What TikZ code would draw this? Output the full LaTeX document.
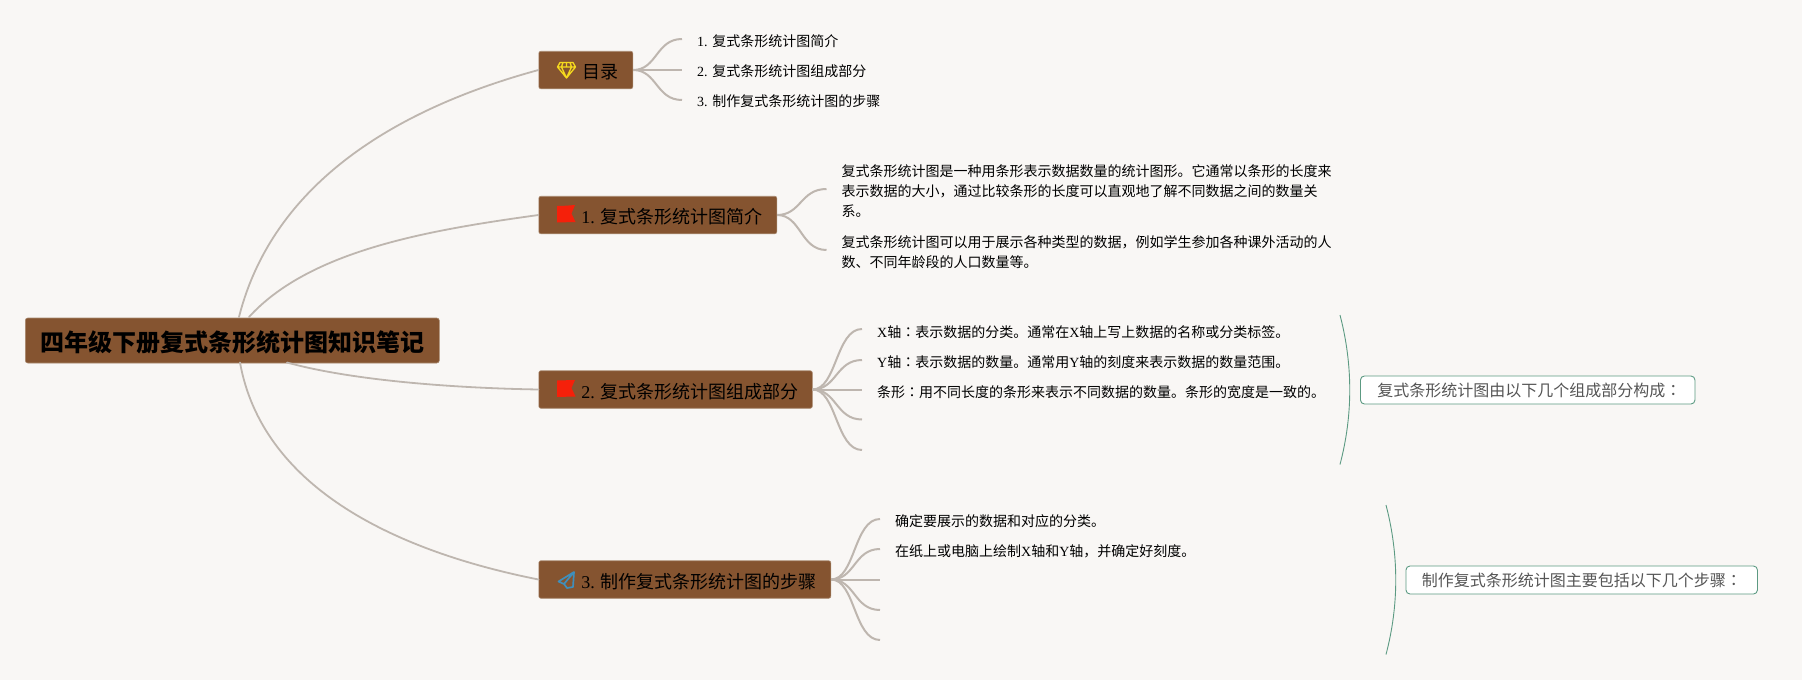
\documentclass[tikz,border=0pt]{standalone}
\usepackage{fontspec}
\usetikzlibrary{calc}
\setmainfont{Noto Sans CJK SC}
\newfontfamily\latf{Liberation Serif}
\newfontfamily\tcf{Noto Sans CJK TC}
\newcommand{\lat}[1]{{\latf #1}}
\newcommand{\cln}{{\tcf ：}}
\definecolor{bgc}{HTML}{F9F7F5}
\definecolor{boxc}{HTML}{855430}
\definecolor{boxl}{HTML}{A98A70}
\definecolor{linec}{HTML}{BEB6AF}
\definecolor{greenc}{HTML}{5C9A82}
\definecolor{greyt}{HTML}{555555}
\definecolor{flagc}{HTML}{F5200A}
\definecolor{gemc}{HTML}{F5D91E}
\definecolor{planec}{HTML}{3F8FBC}
\tikzset{
  x=1pt,y=-1pt,
  rootbox/.style={fill=boxc,draw=boxl,line width=.6pt,rounded corners=2.5pt,inner sep=0pt,minimum height=45pt,minimum width=414pt,text height=21pt,text depth=0pt,anchor=west,text=black,font=\fontsize{24}{28}\selectfont\bfseries},
  topic/.style={fill=boxc,draw=boxl,line width=.6pt,rounded corners=2pt,inner sep=0pt,minimum height=37.5pt,text height=17pt,text depth=0pt,anchor=west,text=black,font=\fontsize{18}{22}\selectfont},
  leaf/.style={inner sep=0pt,anchor=west,align=left,text=black,font=\fontsize{14}{20}\selectfont},
  note/.style={fill=white,draw=greenc,line width=.9pt,rounded corners=4pt,inner sep=0pt,minimum height=28pt,anchor=west,text=greyt,font=\fontsize{16}{20}\selectfont},
  mainlink/.style={draw=linec,line width=1.8pt,line cap=round},
  sublink/.style={draw=linec,line width=2pt},
  bracket/.style={draw=greenc,line width=.9pt},
}
\begin{document}
\begin{tikzpicture}
\useasboundingbox (0,0) rectangle (1802,680);
\fill[bgc] (0,0) rectangle (1802,680);

% nodes
\node[rootbox] (root) at (25,340.5) {\makebox[414pt][c]{四年级下册复式条形统计图知识笔记}};
\node[topic,minimum width=94pt] (t0) at (538.5,70) {\makebox[94pt][l]{\hspace{44pt}目录}};
\node[topic,minimum width=238pt] (t1) at (538.5,215) {\makebox[238pt][l]{\hspace{42.5pt}\lat{1. }复式条形统计图简介}};
\node[topic,minimum width=273.5pt] (t2) at (538.5,389.5) {\makebox[273.5pt][l]{\hspace{42.5pt}\lat{2. }复式条形统计图组成部分}};
\node[topic,minimum width=292pt] (t3) at (538.5,579.5) {\makebox[292pt][l]{\hspace{42.5pt}\lat{3. }制作复式条形统计图的步骤}};

\node[leaf] (a1) at (697,41.5) {\lat{1. }复式条形统计图简介};
\node[leaf] (a2) at (697,71.5) {\lat{2. }复式条形统计图组成部分};
\node[leaf] (a3) at (697,101.5) {\lat{3. }制作复式条形统计图的步骤};

\node[leaf] (b1) at (841.5,191.5) {复式条形统计图是一种用条形表示数据数量的统计图形。它通常以条形的长度来\\表示数据的大小，通过比较条形的长度可以直观地了解不同数据之间的数量关\\系。};
\node[leaf] (b2) at (841.5,252) {复式条形统计图可以用于展示各种类型的数据，例如学生参加各种课外活动的人\\数、不同年龄段的人口数量等。};

\node[leaf] (c1) at (877,332) {\lat{X}轴\cln 表示数据的分类。通常在\lat{X}轴上写上数据的名称或分类标签。};
\node[leaf] (c2) at (877,362) {\lat{Y}轴\cln 表示数据的数量。通常用\lat{Y}轴的刻度来表示数据的数量范围。};
\node[leaf] (c3) at (877,392) {条形\cln 用不同长度的条形来表示不同数据的数量。条形的宽度是一致的。};

\node[leaf] (d1) at (895,521.5) {确定要展示的数据和对应的分类。};
\node[leaf] (d2) at (895,551.5) {在纸上或电脑上绘制\lat{X}轴和\lat{Y}轴，并确定好刻度。};

\node[note,minimum width=334.5pt] (n1) at (1360,390) {\makebox[334.5pt][l]{\hspace{17pt}复式条形统计图由以下几个组成部分构成\cln}};
\node[note,minimum width=351.5pt] (n2) at (1405.5,580) {\makebox[351.5pt][l]{\hspace{16pt}制作复式条形统计图主要包括以下几个步骤\cln}};

% free ends
\coordinate (r0) at (239,317);
\coordinate (r1) at (249,317);
\coordinate (r2) at (287,362.5);
\coordinate (r3) at (240,362.5);
\coordinate (ae1) at (682,39);
\coordinate (ae2) at (682,70);
\coordinate (ae3) at (682,100);
\coordinate (be1) at (826.5,189);
\coordinate (be2) at (826.5,250);
\coordinate (ce1) at (862,329);
\coordinate (ce2) at (862,360);
\coordinate (ce3) at (862,389.5);
\coordinate (ce4) at (862,419.5);
\coordinate (ce5) at (862,450);
\coordinate (de1) at (880,519);
\coordinate (de2) at (880,549);
\coordinate (de3) at (880,579.5);
\coordinate (de4) at (880,610);
\coordinate (de5) at (880,640);
\coordinate (k1t) at (1340,315);
\coordinate (k1b) at (1340,464.5);
\coordinate (k2t) at (1386,505);
\coordinate (k2b) at (1386,654.5);

% main links
\draw[mainlink] (r0) .. controls (275,175) and (410,105) .. (t0.west);
\draw[mainlink] (r1) .. controls (310,250) and (430,230) .. (t1.west);
\draw[mainlink] (r2) .. controls (350,380) and (450,388) .. (t2.west);
\draw[mainlink] (r3) .. controls (262,485) and (390,550) .. (t3.west);

% sub links
\foreach \e in {ae1,ae2,ae3}
  \draw[sublink] (t0.east) .. controls +(24,0) and ($(\e)+(-26,0)$) .. (\e);
\foreach \e in {be1,be2}
  \draw[sublink] (t1.east) .. controls +(24,0) and ($(\e)+(-26,0)$) .. (\e);
\foreach \e in {ce1,ce2,ce3,ce4,ce5}
  \draw[sublink] (t2.east) .. controls +(24,0) and ($(\e)+(-26,0)$) .. (\e);
\foreach \e in {de1,de2,de3,de4,de5}
  \draw[sublink] (t3.east) .. controls +(24,0) and ($(\e)+(-26,0)$) .. (\e);

% summary brackets
\draw[bracket] (k1t) .. controls (1353,365) and (1353,415) .. (k1b);
\draw[bracket] (k2t) .. controls (1399,555) and (1399,605) .. (k2b);

% icons
\draw[gemc,line width=1.3pt,line join=round] (560,62.5) -- (573,62.5) -- (575.5,67) -- (566.5,78) -- (557.5,67) -- cycle
  (557.5,67) -- (575.5,67) (561.5,67) -- (566.5,78) -- (571.5,67) (563,62.5) -- (561.5,67) (570,62.5) -- (571.5,67) (566.5,62.5)--(566.5,67);
\fill[flagc] (557,206) .. controls (563,206) and (569,205.5) .. (575,205) -- (571.5,213.5) -- (575.5,222) .. controls (569,222) and (563,222.5) .. (557,222.5) -- cycle;
\fill[flagc] (557,380.5) .. controls (563,380.5) and (569,380) .. (575,380) -- (571.5,388) -- (575.5,396.5) .. controls (569,396.5) and (563,397) .. (557,397) -- cycle;
\draw[planec,line width=1.7pt,line join=round] (574,572) -- (558.5,581.5) -- (564,584) -- (567,588) -- (573,587) -- cycle (574,572) -- (564,584);
\end{tikzpicture}
\end{document}
